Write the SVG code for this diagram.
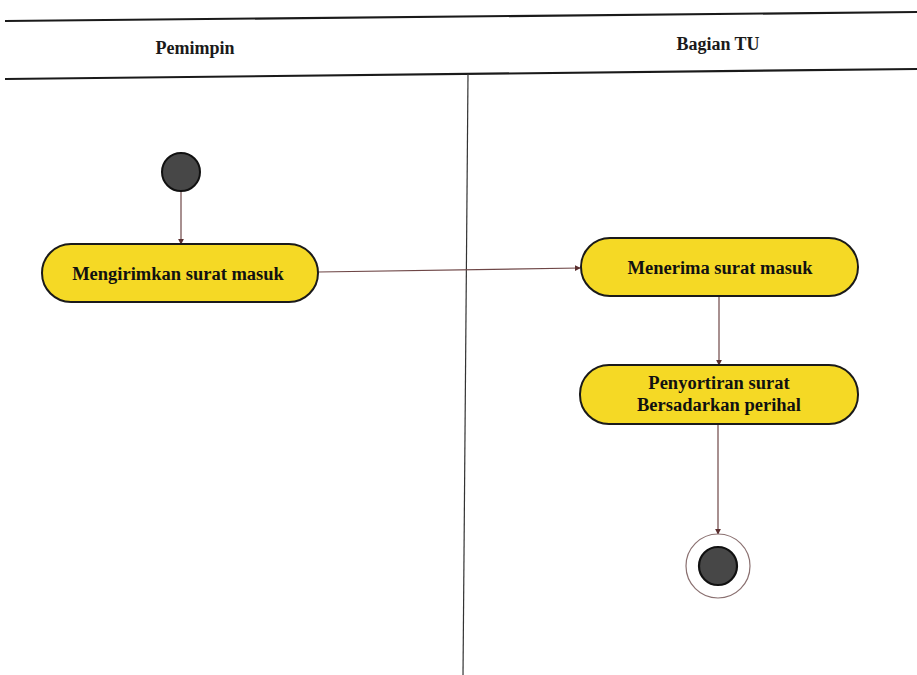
<svg xmlns="http://www.w3.org/2000/svg" width="917" height="675" viewBox="0 0 917 675">
  <style>
    .lane { stroke: #1a1a1a; stroke-width: 2.2; fill: none; }
    .divider { stroke: #333; stroke-width: 1.2; fill: none; }
    .head { font-family: "Liberation Serif", "Times New Roman", serif; font-weight: bold; font-size: 18px; fill: #1a1a1a; text-anchor: middle; }
    .act rect { fill: #F5D925; stroke: #1a1a1a; stroke-width: 2; }
    .act text { font-family: "Liberation Serif", "Times New Roman", serif; font-weight: bold; font-size: 18.5px; fill: #111; text-anchor: middle; }
    .flow { stroke: #6e4646; stroke-width: 1.2; fill: none; marker-end: url(#arrow); }
  </style>
  <defs>
    <marker id="arrow" viewBox="0 0 8 8" refX="7" refY="4" markerWidth="6" markerHeight="6" orient="auto" markerUnits="userSpaceOnUse">
      <path d="M0,0 L8,4 L0,8 Z" fill="#5a2e2e"/>
    </marker>
  </defs>
  <rect width="917" height="675" fill="#ffffff"/>

  <!-- swimlane frame -->
  <g id="lanes">
    <line class="lane" x1="5" y1="21" x2="917" y2="12"/>
    <line class="lane" x1="5" y1="79" x2="917" y2="69"/>
    <line class="divider" x1="468" y1="74" x2="463" y2="675"/>
    <text class="head" x="195" y="54">Pemimpin</text>
    <text class="head" x="718" y="50">Bagian TU</text>
  </g>

  <!-- connectors -->
  <g id="connectors">
    <line class="flow" x1="181" y1="192" x2="181" y2="244"/>
    <line class="flow" x1="318" y1="272" x2="580" y2="268"/>
    <line class="flow" x1="719" y1="296" x2="719" y2="365"/>
    <line class="flow" x1="718" y1="424" x2="718" y2="534"/>
  </g>

  <g id="start">
    <circle cx="181" cy="172" r="19" fill="#474747" stroke="#111" stroke-width="2"/>
  </g>

  <g id="kirim" class="act">
    <rect x="42" y="244" width="276" height="58" rx="29" ry="29"/>
    <text x="178" y="280">Mengirimkan surat masuk</text>
  </g>

  <g id="terima" class="act">
    <rect x="581" y="238" width="277" height="58" rx="29" ry="29"/>
    <text x="720" y="274">Menerima surat masuk</text>
  </g>

  <g id="sortir" class="act">
    <rect x="580" y="365" width="278" height="59" rx="29" ry="29"/>
    <text x="719" y="389">Penyortiran surat</text>
    <text x="719" y="411">Bersadarkan perihal</text>
  </g>

  <g id="end">
    <circle cx="718" cy="566" r="32" fill="#ffffff" stroke="#8a7070" stroke-width="1.2"/>
    <circle cx="718" cy="566" r="19" fill="#474747" stroke="#111" stroke-width="2.2"/>
  </g>
</svg>
